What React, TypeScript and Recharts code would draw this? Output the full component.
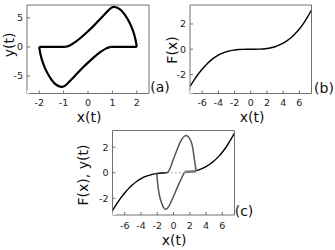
import React from 'react';
import { LineChart, Line, XAxis, YAxis } from 'recharts';

// (a) limit cycle, split in pieces so the corners stay sharp
const loopUpperFlat = [
  { x: -2, y: 0 },
  { x: -0.93, y: 0 },
];
const loopUpperCurve = [
  { x: -0.93, y: 0 },
  { x: -0.75, y: 0.25 },
  { x: -0.5, y: 0.9 },
  { x: -0.25, y: 1.75 },
  { x: 0, y: 2.7 },
  { x: 0.25, y: 3.7 },
  { x: 0.5, y: 4.8 },
  { x: 0.75, y: 5.9 },
  { x: 0.95, y: 6.7 },
  { x: 1.1, y: 6.85 },
  { x: 1.3, y: 6.5 },
  { x: 1.5, y: 5.6 },
  { x: 1.7, y: 4.2 },
  { x: 1.85, y: 2.7 },
  { x: 1.95, y: 1.2 },
  { x: 2, y: 0 },
];
const loopLowerFlat = [
  { x: 2, y: 0 },
  { x: 0.93, y: 0 },
];
const loopLowerCurve = [
  { x: 0.93, y: 0 },
  { x: 0.75, y: -0.25 },
  { x: 0.5, y: -0.9 },
  { x: 0.25, y: -1.75 },
  { x: 0, y: -2.7 },
  { x: -0.25, y: -3.7 },
  { x: -0.5, y: -4.8 },
  { x: -0.75, y: -5.9 },
  { x: -0.95, y: -6.7 },
  { x: -1.1, y: -6.85 },
  { x: -1.3, y: -6.5 },
  { x: -1.5, y: -5.6 },
  { x: -1.7, y: -4.2 },
  { x: -1.85, y: -2.7 },
  { x: -1.95, y: -1.2 },
  { x: -2, y: 0 },
];

// (b) F(x)
const fX = [-7.5, -7, -6.5, -6, -5.5, -5, -4.5, -4, -3.5, -3, -2.5, -2, -1.5, -1, -0.5, 0, 0.5, 1, 1.5, 2, 2.5, 3, 3.5, 4, 4.5, 5, 5.5, 6, 6.5, 7, 7.5];
const fY = [-2.95, -2.45, -1.98, -1.58, -1.22, -0.92, -0.66, -0.47, -0.31, -0.2, -0.11, -0.06, -0.025, -0.008, -0.001, 0, 0.001, 0.008, 0.025, 0.06, 0.12, 0.2, 0.32, 0.48, 0.68, 0.93, 1.24, 1.6, 2.03, 2.54, 3.1];
const fCurve = fX.map((x, i) => ({ x, y: fY[i] }));

// (c) F(x) outside the cycle, dotted part inside, y(t) lobes
const fLeft = fCurve.filter((p) => p.x <= -1).concat([{ x: -0.82, y: 0 }]);
const fRight = [{ x: 2.8, y: 0.16 }].concat(fCurve.filter((p) => p.x >= 3));
const fDotted = [
  { x: -0.82, y: 0 },
  { x: 1.35, y: 0 },
];
const ySlow = [
  { x: 1.35, y: 0.06 },
  { x: 2.8, y: 0.12 },
];
const yLower = [
  { x: -2.06, y: 0 },
  { x: -2.0, y: -0.5 },
  { x: -1.9, y: -1.1 },
  { x: -1.75, y: -1.7 },
  { x: -1.57, y: -2.15 },
  { x: -1.35, y: -2.55 },
  { x: -1.15, y: -2.78 },
  { x: -0.94, y: -2.85 },
  { x: -0.6, y: -2.65 },
  { x: -0.25, y: -2.2 },
  { x: 0.1, y: -1.7 },
  { x: 0.5, y: -1.1 },
  { x: 0.9, y: -0.55 },
  { x: 1.15, y: -0.2 },
  { x: 1.35, y: 0 },
];
const yUpper = [
  { x: -0.82, y: 0 },
  { x: -0.6, y: 0.12 },
  { x: -0.35, y: 0.45 },
  { x: -0.12, y: 0.87 },
  { x: 0.2, y: 1.4 },
  { x: 0.5, y: 1.9 },
  { x: 0.8, y: 2.35 },
  { x: 1.12, y: 2.7 },
  { x: 1.35, y: 2.85 },
  { x: 1.54, y: 2.9 },
  { x: 1.75, y: 2.85 },
  { x: 1.95, y: 2.7 },
  { x: 2.16, y: 2.44 },
  { x: 2.35, y: 2.0 },
  { x: 2.49, y: 1.4 },
  { x: 2.6, y: 0.9 },
  { x: 2.7, y: 0.48 },
  { x: 2.78, y: 0.1 },
];

const ticksA_x = [-2, -1, 0, 1, 2];
const ticksA_y = [-5, 0, 5];
const ticksF_x = [-6, -4, -2, 0, 2, 4, 6];
const ticksF_y = [-2, 0, 2];

const FONT = '"DejaVu Sans", sans-serif';
const AXIS = '#707070';
const tickStyle = { fontSize: 9.5, fill: '#222', fontFamily: FONT };

// box with inward ticks on all four sides (top/right axes are 1px so they render)
function boxAxes(xDomain: number[], yDomain: number[], xTicks: number[], yTicks: number[], xMargin: number) {
  return [
    <XAxis
      key="xb"
      type="number"
      dataKey="x"
      domain={xDomain}
      ticks={xTicks}
      interval={0}
      allowDataOverflow
      height={20}
      stroke={AXIS}
      tickSize={-3}
      tickMargin={xMargin}
      tick={tickStyle}
    />,
    <XAxis
      key="xt"
      xAxisId="top"
      orientation="top"
      type="number"
      dataKey="x"
      domain={xDomain}
      ticks={xTicks}
      interval={0}
      allowDataOverflow
      height={1}
      stroke={AXIS}
      tickSize={-3}
      tick={false}
    />,
    <YAxis
      key="yl"
      type="number"
      dataKey="y"
      domain={yDomain}
      ticks={yTicks}
      interval={0}
      allowDataOverflow
      width={20}
      stroke={AXIS}
      tickSize={-3}
      tickMargin={7}
      tick={tickStyle}
    />,
    <YAxis
      key="yr"
      yAxisId="right"
      orientation="right"
      type="number"
      dataKey="y"
      domain={yDomain}
      ticks={yTicks}
      interval={0}
      allowDataOverflow
      width={1}
      stroke={AXIS}
      tickSize={-3}
      tick={false}
    />,
    <Line
      key="ghost"
      xAxisId="top"
      yAxisId="right"
      data={[{ x: xDomain[0], y: yDomain[0] }]}
      dataKey="y"
      stroke="none"
      dot={false}
      isAnimationActive={false}
    />,
  ];
}

const label = (text: string, left: number, top: number, rotate = false) => (
  <div
    style={{
      position: 'absolute',
      left,
      top,
      fontFamily: FONT,
      fontSize: 14,
      color: '#111',
      whiteSpace: 'nowrap',
      lineHeight: '13px',
      transform: rotate ? 'translate(-50%, -50%) rotate(-90deg)' : 'translate(-50%, -50%)',
    }}
  >
    {text}
  </div>
);

export default function App() {
  return (
    <div style={{ position: 'absolute', left: 0, top: 0, width: 335, height: 250, background: '#fff', overflow: 'hidden' }}>
      <div style={{ position: 'absolute', left: 0, top: 0 }}>
        <LineChart width={160} height={125} margin={{ top: 4, right: 10, left: 7, bottom: 11.5 }}>
          {boxAxes([-2.5, 2.5], [-8, 7.2], ticksA_x, ticksA_y, 9)}
          <Line data={loopUpperFlat} dataKey="y" type="linear" stroke="#000" strokeWidth={2.2} dot={false} isAnimationActive={false} />
          <Line data={loopUpperCurve} dataKey="y" type="natural" stroke="#000" strokeWidth={2.2} dot={false} isAnimationActive={false} />
          <Line data={loopLowerFlat} dataKey="y" type="linear" stroke="#000" strokeWidth={2.2} dot={false} isAnimationActive={false} />
          <Line data={loopLowerCurve} dataKey="y" type="natural" stroke="#000" strokeWidth={2.2} dot={false} isAnimationActive={false} />
        </LineChart>
      </div>
      <div style={{ position: 'absolute', left: 165, top: 0 }}>
        <LineChart width={170} height={125} margin={{ top: 4, right: 22.5, left: 5, bottom: 11.5 }}>
          {boxAxes([-7.5, 7.5], [-3.5, 3.5], ticksF_x, ticksF_y, 9)}
          <Line data={fCurve} dataKey="y" type="monotone" stroke="#000" strokeWidth={1.4} dot={false} isAnimationActive={false} />
        </LineChart>
      </div>
      <div style={{ position: 'absolute', left: 85, top: 125 }}>
        <LineChart width={170} height={125} margin={{ top: 4.5, right: 19.5, left: 7.5, bottom: 15 }}>
          {boxAxes([-7.5, 7.5], [-3.3, 3.3], ticksF_x, ticksF_y, 10)}
          <Line data={fDotted} dataKey="y" type="linear" stroke="#aaa" strokeWidth={1.2} strokeDasharray="2 2" dot={false} isAnimationActive={false} />
          <Line data={fLeft} dataKey="y" type="monotone" stroke="#000" strokeWidth={1.4} dot={false} isAnimationActive={false} />
          <Line data={fRight} dataKey="y" type="monotone" stroke="#000" strokeWidth={1.4} dot={false} isAnimationActive={false} />
          <Line data={yLower} dataKey="y" type="natural" stroke="#555" strokeWidth={1.5} dot={false} isAnimationActive={false} />
          <Line data={yUpper} dataKey="y" type="natural" stroke="#555" strokeWidth={1.5} dot={false} isAnimationActive={false} />
          <Line data={ySlow} dataKey="y" type="linear" stroke="#777" strokeWidth={2.6} dot={false} isAnimationActive={false} />
        </LineChart>
      </div>
      {label('x(t)', 89, 117)}
      {label('y(t)', 9, 45, true)}
      {label('(a)', 160, 87)}
      {label('x(t)', 252, 117)}
      {label('F(x)', 172, 50, true)}
      {label('(b)', 324, 88)}
      {label('x(t)', 174, 240)}
      {label('F(x), y(t)', 83, 175, true)}
      {label('(c)', 244, 211)}
    </div>
  );
}
